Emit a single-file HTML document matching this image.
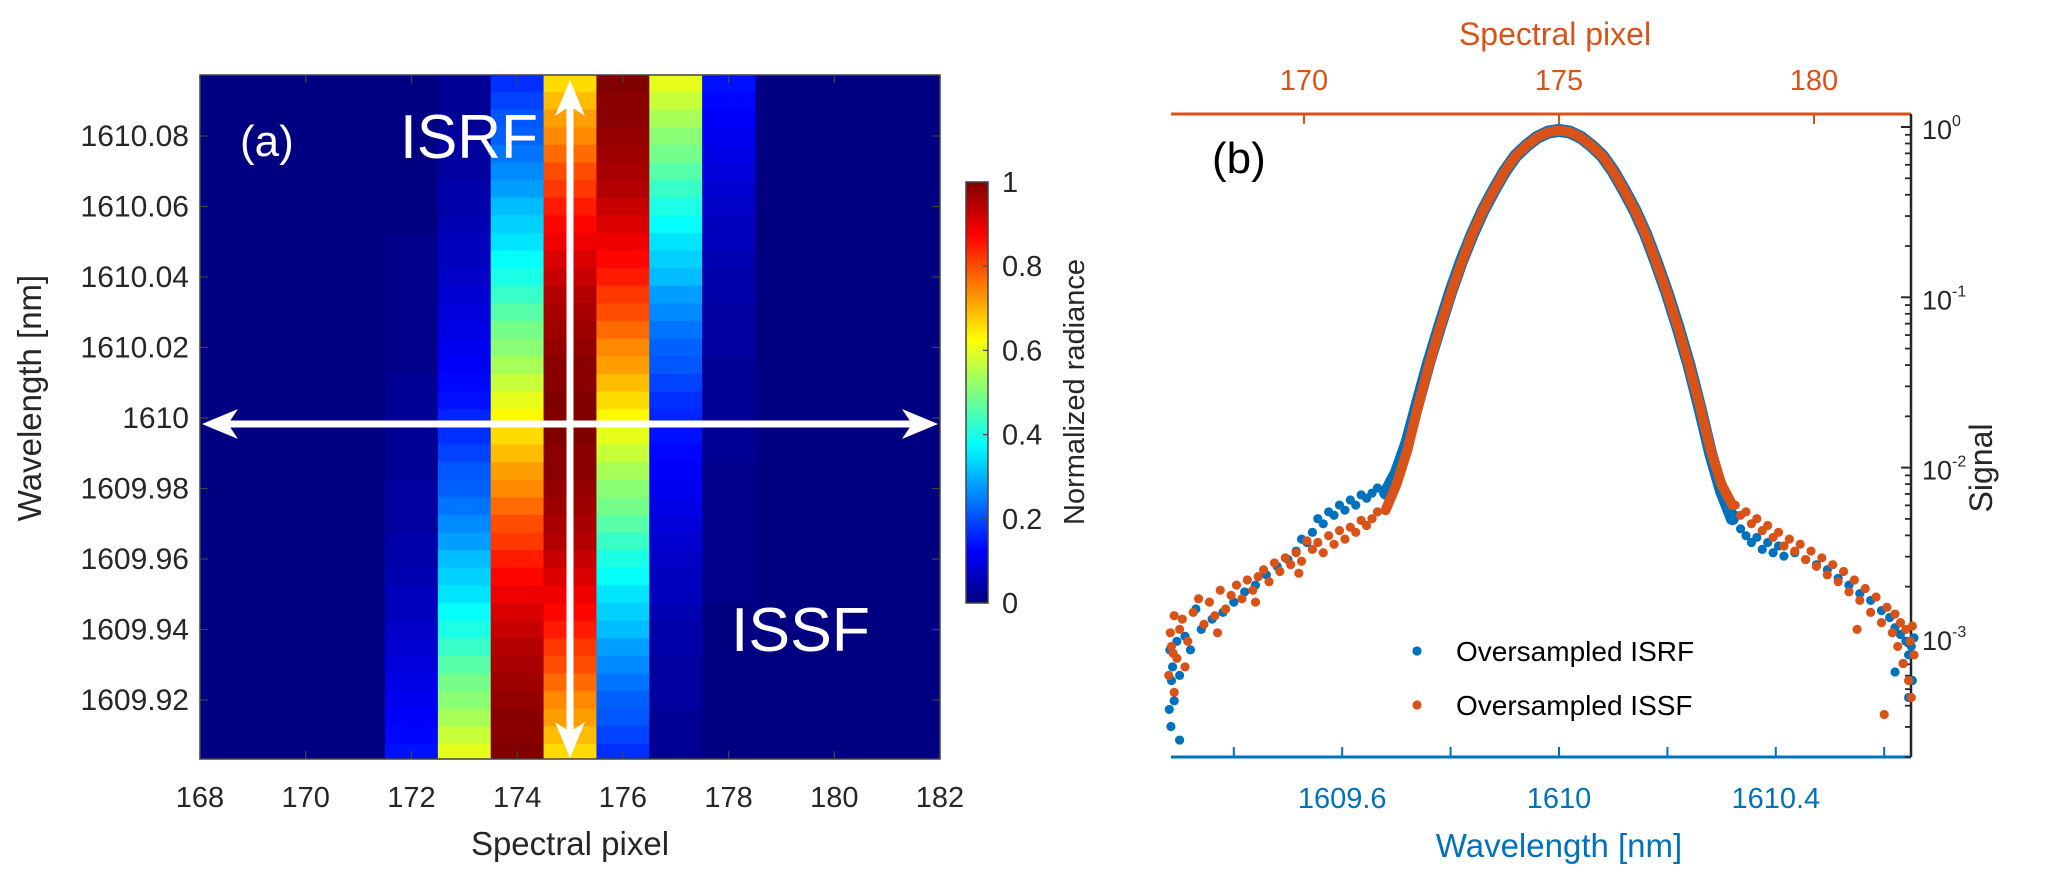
<!DOCTYPE html>
<html><head><meta charset="utf-8">
<style>
html,body{margin:0;padding:0;background:#fff;}
svg{display:block;font-family:"Liberation Sans",Arial,sans-serif;}
</style></head>
<body>
<svg id="fig" width="2067" height="886" viewBox="0 0 2067 886" xmlns="http://www.w3.org/2000/svg">
<defs>
  <linearGradient id="jetGrad" x1="0" y1="1" x2="0" y2="0">
    <stop offset="0" stop-color="#000080"/>
    <stop offset="0.125" stop-color="#0000ff"/>
    <stop offset="0.375" stop-color="#00ffff"/>
    <stop offset="0.625" stop-color="#ffff00"/>
    <stop offset="0.875" stop-color="#ff0000"/>
    <stop offset="1" stop-color="#800000"/>
  </linearGradient>
  <clipPath id="clipA"><rect x="200" y="75" width="740" height="684"/></clipPath>
</defs>
<g id="panelA"></g>
<g id="panelB"></g>
</svg>
<script>
// ---------- Panel (a) data ----------
const heatCols = [172,173,174,175,176,177,178];
const heatRowWl = [1610.095,1610.090,1610.085,1610.080,1610.075,1610.070,1610.065,1610.060,1610.055,1610.050,1610.045,1610.040,1610.035,1610.030,1610.025,1610.020,1610.015,1610.010,1610.005,1610.000,1609.995,1609.990,1609.985,1609.980,1609.975,1609.970,1609.965,1609.960,1609.955,1609.950,1609.945,1609.940,1609.935,1609.930,1609.925,1609.920,1609.915,1609.910,1609.905];
const heatVals = [
[.00,.02,.17,.66,1.0,.60,.14],[.00,.02,.19,.69,.99,.57,.13],[.00,.02,.21,.72,.99,.54,.12],[.00,.03,.22,.74,.98,.51,.11],
[.00,.03,.24,.77,.97,.49,.10],[.00,.03,.26,.80,.96,.46,.09],[.00,.04,.28,.82,.95,.43,.08],[.00,.04,.31,.85,.93,.40,.07],
[.00,.05,.33,.87,.91,.38,.06],[.01,.06,.35,.89,.89,.35,.06],[.01,.06,.38,.91,.87,.33,.05],[.01,.07,.40,.93,.85,.31,.04],
[.01,.08,.43,.95,.82,.28,.04],[.01,.09,.46,.96,.80,.26,.03],[.01,.10,.49,.97,.77,.24,.03],[.01,.11,.51,.98,.74,.22,.03],
[.01,.12,.54,.99,.72,.21,.02],[.02,.13,.57,.99,.69,.19,.02],[.02,.14,.60,1.0,.66,.17,.02],[.02,.16,.63,1.0,.63,.16,.02],
[.02,.17,.66,1.0,.60,.14,.02],[.02,.19,.69,.99,.57,.13,.02],[.02,.21,.72,.99,.54,.12,.01],[.03,.22,.74,.98,.51,.11,.01],
[.03,.24,.77,.97,.49,.10,.01],[.03,.26,.80,.96,.46,.09,.01],[.04,.28,.82,.95,.43,.08,.01],[.04,.31,.85,.93,.40,.07,.01],
[.05,.33,.87,.91,.38,.06,.01],[.06,.35,.89,.89,.35,.06,.01],[.06,.38,.91,.87,.33,.05,.00],[.07,.40,.93,.85,.31,.04,.00],
[.08,.43,.95,.82,.28,.04,.00],[.09,.46,.96,.80,.26,.03,.00],[.10,.49,.97,.77,.24,.03,.00],[.11,.51,.98,.74,.22,.03,.00],
[.12,.54,.99,.72,.21,.02,.00],[.13,.57,.99,.69,.19,.02,.00],[.14,.60,1.0,.66,.17,.02,.00]];
const aXTicks = [168,170,172,174,176,178,180,182];
const aYTicks = [1610.08,1610.06,1610.04,1610.02,1610,1609.98,1609.96,1609.94,1609.92];
const aYTickLabels = ["1610.08","1610.06","1610.04","1610.02","1610","1609.98","1609.96","1609.94","1609.92"];
const cbTicks = [0,0.2,0.4,0.6,0.8,1];
const cbTickLabels = ["0","0.2","0.4","0.6","0.8","1"];

// ---------- Panel (b) data ----------
const coreWl = [1609.68,1609.70,1609.72,1609.74,1609.76,1609.78,1609.80,1609.82,1609.84,1609.86,1609.88,1609.90,1609.92,1609.94,1609.96,1609.98,1610.00,1610.02,1610.04,1610.06,1610.08,1610.10,1610.12,1610.14,1610.16,1610.18,1610.20,1610.22,1610.24,1610.26,1610.28,1610.30,1610.32];
const isrfCoreLog = [-2.15,-2.03,-1.85,-1.61,-1.38,-1.17,-0.97,-0.79,-0.63,-0.49,-0.37,-0.26,-0.17,-0.11,-0.06,-0.03,-0.02,-0.03,-0.06,-0.11,-0.17,-0.26,-0.37,-0.49,-0.63,-0.80,-0.98,-1.18,-1.40,-1.65,-1.92,-2.14,-2.30];
const issfCoreLog = [-2.25,-2.10,-1.90,-1.64,-1.40,-1.18,-0.98,-0.80,-0.63,-0.49,-0.37,-0.26,-0.17,-0.11,-0.06,-0.03,-0.02,-0.03,-0.06,-0.11,-0.17,-0.26,-0.37,-0.49,-0.63,-0.80,-0.98,-1.18,-1.40,-1.64,-1.90,-2.10,-2.22];
const isrfTailWl = [1609.665,1609.655,1609.645,1609.635,1609.625,1609.615,1609.605,1609.595,1609.585,1609.575,1609.565,1609.555,1609.545,1609.535,1609.525,1609.515,1609.50,1609.48,1609.46,1609.44,1609.42,1609.40,1609.38,1609.36,1609.34,1609.33,1609.32,1609.31,1609.30,1609.295,1609.29,1609.287,1609.284,1609.282,1609.281,1609.285,1609.30,
 1610.325,1610.335,1610.345,1610.355,1610.365,1610.375,1610.385,1610.395,1610.405,1610.415,1610.435,1610.455,1610.475,1610.495,1610.515,1610.535,1610.555,1610.575,1610.595,1610.61,1610.62,1610.63,1610.635,1610.64,1610.645,1610.65,1610.652,1610.655,1610.645,1610.62];
const isrfTailLog = [-2.12,-2.15,-2.18,-2.16,-2.22,-2.19,-2.25,-2.22,-2.28,-2.26,-2.33,-2.30,-2.38,-2.44,-2.42,-2.49,-2.54,-2.58,-2.63,-2.69,-2.73,-2.79,-2.85,-2.89,-2.95,-2.83,-3.07,-2.99,-3.22,-3.02,-3.37,-3.17,-3.52,-3.07,-3.42,-3.25,-3.60,
 -2.28,-2.36,-2.40,-2.44,-2.41,-2.48,-2.44,-2.50,-2.46,-2.52,-2.50,-2.54,-2.57,-2.60,-2.65,-2.69,-2.74,-2.78,-2.84,-2.88,-2.94,-2.98,-3.15,-3.02,-3.10,-3.05,-3.25,-3.00,-3.35,-3.20];
const issfTailWl = [1609.665,1609.655,1609.645,1609.635,1609.625,1609.615,1609.605,1609.595,1609.585,1609.575,1609.565,1609.555,1609.545,1609.535,1609.525,1609.515,1609.505,1609.495,1609.485,1609.475,1609.465,1609.455,1609.445,1609.435,1609.425,1609.415,1609.405,1609.395,1609.385,1609.375,1609.365,1609.355,1609.345,1609.335,1609.325,1609.315,1609.305,1609.30,1609.295,1609.29,1609.285,1609.28,1609.283,1609.288,1609.52,1609.44,1609.37,1609.31,1609.29,
 1610.325,1610.335,1610.345,1610.355,1610.365,1610.375,1610.385,1610.395,1610.405,1610.415,1610.425,1610.435,1610.445,1610.455,1610.465,1610.475,1610.485,1610.495,1610.505,1610.515,1610.525,1610.535,1610.545,1610.555,1610.565,1610.575,1610.585,1610.595,1610.605,1610.615,1610.62,1610.625,1610.63,1610.635,1610.64,1610.645,1610.648,1610.65,1610.652,1610.655,1610.60,1610.55];
const issfTailLog = [-2.26,-2.30,-2.34,-2.31,-2.38,-2.35,-2.42,-2.37,-2.45,-2.40,-2.50,-2.44,-2.48,-2.43,-2.55,-2.50,-2.57,-2.53,-2.61,-2.56,-2.67,-2.60,-2.64,-2.72,-2.66,-2.77,-2.69,-2.75,-2.83,-2.72,-2.87,-2.79,-2.92,-2.77,-2.85,-3.02,-2.89,-2.95,-3.12,-2.87,-3.05,-3.22,-2.97,-3.09,-2.62,-2.79,-2.97,-3.17,-3.32,
 -2.22,-2.28,-2.26,-2.33,-2.30,-2.37,-2.34,-2.41,-2.38,-2.46,-2.42,-2.49,-2.45,-2.54,-2.49,-2.58,-2.53,-2.63,-2.57,-2.67,-2.61,-2.73,-2.66,-2.78,-2.71,-2.85,-2.76,-2.91,-2.82,-2.97,-2.86,-3.05,-2.91,-3.15,-2.95,-3.25,-3.02,-3.35,-2.93,-3.10,-3.45,-2.95];
const bXTicks = [1609.4,1609.6,1609.8,1610,1610.2,1610.4,1610.6];
const bXTickLabels = {"1609.6":"1609.6","1610":"1610","1610.4":"1610.4"};
const bTopTicks = [170,175,180];
const bYDecades = [0,-1,-2,-3];

const NS = "http://www.w3.org/2000/svg";
function mk(tag, attrs, parent, text){
  const e = document.createElementNS(NS, tag);
  for (const k in attrs) e.setAttribute(k, attrs[k]);
  if (text !== undefined) e.textContent = text;
  parent.appendChild(e);
  return e;
}
function jet(v){
  const c = x => Math.max(0, Math.min(1, x));
  const r = c(1.5 - Math.abs(4*v - 3)), g = c(1.5 - Math.abs(4*v - 2)), b = c(1.5 - Math.abs(4*v - 1));
  return `rgb(${Math.round(r*255)},${Math.round(g*255)},${Math.round(b*255)})`;
}

// ---------- Panel (a) ----------
const A = document.getElementById('panelA');
const axL = 200, axR = 940, axT = 75, axB = 759;
const xA = p => axL + (p - 168) * (axR - axL) / 14;
const yA = l => 418 - (l - 1610) * 3525;

const bg = mk('rect', {x:axL, y:axT, width:axR-axL, height:axB-axT, fill:jet(0)}, A);


const cells = mk('g', {'clip-path':'url(#clipA)'}, A);


heatRowWl.forEach((wl, i) => {
  heatCols.forEach((col, j) => {
    const x0 = xA(col - 0.5), x1 = xA(col + 0.5);
    const y0 = yA(wl + 0.0025), y1 = yA(wl - 0.0025);
    const r = mk('rect', {x:x0, y:y0, width:x1-x0+0.5, height:y1-y0+0.5, fill:jet(heatVals[i][j])}, cells);
    
    
  });
});
const boxA = mk('rect', {x:axL, y:axT, width:axR-axL, height:axB-axT, fill:'none', stroke:'#444', 'stroke-width':1.5}, A);


aXTicks.forEach(t => {
  const x = xA(t);
  mk('line', {x1:x, y1:axB, x2:x, y2:axB-8, stroke:'#444', 'stroke-width':1.2}, A);
  mk('line', {x1:x, y1:axT, x2:x, y2:axT+8, stroke:'#444', 'stroke-width':1.2}, A);
  const lb = mk('text', {x:x, y:807, 'font-size':29, 'text-anchor':'middle', fill:'#262626'}, A, String(t));
  
  
});
aYTicks.forEach((t, i) => {
  const y = yA(t);
  mk('line', {x1:axL, y1:y, x2:axL+8, y2:y, stroke:'#444', 'stroke-width':1.2}, A);
  mk('line', {x1:axR, y1:y, x2:axR-8, y2:y, stroke:'#444', 'stroke-width':1.2}, A);
  const lb = mk('text', {x:189, y:y+10, 'font-size':30, 'text-anchor':'end', fill:'#262626'}, A, aYTickLabels[i]);
  
  
});
const xtA = mk('text', {x:570, y:855, 'font-size':33, 'text-anchor':'middle', fill:'#262626'}, A, 'Spectral pixel');


const ytA = mk('text', {x:0, y:0, 'font-size':33, 'text-anchor':'middle', fill:'#262626', transform:'translate(41,398) rotate(-90)'}, A, 'Wavelength [nm]');



const arr = mk('g', {fill:'#fff', stroke:'none'}, A);


const vx = xA(175), hy = 424;
mk('rect', {x:vx-3.5, y:100, width:7, height:636}, arr);
mk('polygon', {points:`${vx},80 ${vx+15},116 ${vx},106 ${vx-15},116`}, arr);
mk('polygon', {points:`${vx},758 ${vx+15},722 ${vx},732 ${vx-15},722`}, arr);
mk('rect', {x:225, y:hy-3.5, width:690, height:7}, arr);
mk('polygon', {points:`202,${hy} 238,${hy-15} 228,${hy} 238,${hy+15}`}, arr);
mk('polygon', {points:`938,${hy} 902,${hy-15} 912,${hy} 902,${hy+15}`}, arr);

const la = mk('text', {x:240, y:156, 'font-size':44, fill:'#fff'}, A, '(a)');


const isrf = mk('text', {x:400, y:158, 'font-size':62, fill:'#fff', textLength:138, lengthAdjust:'spacingAndGlyphs'}, A, 'ISRF');


const issf = mk('text', {x:731, y:651, 'font-size':62, fill:'#fff', textLength:139, lengthAdjust:'spacingAndGlyphs'}, A, 'ISSF');



const cbL = 966, cbR = 988, cbT = 182, cbB = 603;
const cb = mk('rect', {x:cbL, y:cbT, width:cbR-cbL, height:cbB-cbT, fill:'url(#jetGrad)', stroke:'#444', 'stroke-width':1.5}, A);


cbTicks.forEach((t, i) => {
  const y = cbB - t * (cbB - cbT);
  mk('line', {x1:cbR, y1:y, x2:cbR-5, y2:y, stroke:'#444', 'stroke-width':1.2}, A);
  const lb = mk('text', {x:1002, y:y+10, 'font-size':29, fill:'#262626'}, A, cbTickLabels[i]);
  
  
});
const cbt = mk('text', {x:0, y:0, 'font-size':29, 'text-anchor':'middle', fill:'#262626', transform:'translate(1084,392) rotate(-90)'}, A, 'Normalized radiance');



// ---------- Panel (b) ----------
const B = document.getElementById('panelB');
const bL = 1171, bR = 1911, bT = 114, bBt = 757;
const xB = wl => 1559 + (wl - 1610) * 542;
const xP = p => 1559 + (p - 175) * 51;
const yB = lg => 127 - lg * 170.3;
const ORANGE = '#D95319', BLUE = '#0072BD';

const topAx = mk('line', {x1:bL, y1:bT, x2:bR, y2:bT, stroke:ORANGE, 'stroke-width':3}, B);


bTopTicks.forEach(t => {
  const x = xP(t);
  mk('line', {x1:x, y1:bT, x2:x, y2:bT+10, stroke:ORANGE, 'stroke-width':2}, B);
  const lb = mk('text', {x:x, y:90, 'font-size':29, 'text-anchor':'middle', fill:ORANGE}, B, String(t));
  
  
});
const tt = mk('text', {x:1555, y:45, 'font-size':32, 'text-anchor':'middle', fill:ORANGE}, B, 'Spectral pixel');



const botAx = mk('line', {x1:bL, y1:bBt, x2:bR, y2:bBt, stroke:BLUE, 'stroke-width':3}, B);


bXTicks.forEach(t => {
  const x = xB(t);
  mk('line', {x1:x, y1:bBt, x2:x, y2:bBt-10, stroke:BLUE, 'stroke-width':2}, B);
  const key = String(Math.round(t*10)/10);
  if (bXTickLabels[key]) {
    const lb = mk('text', {x:x, y:808, 'font-size':29, 'text-anchor':'middle', fill:BLUE}, B, bXTickLabels[key]);
    
    
  }
});
const bt = mk('text', {x:1559, y:857, 'font-size':33, 'text-anchor':'middle', fill:BLUE}, B, 'Wavelength [nm]');



const rAx = mk('line', {x1:bR, y1:bT, x2:bR, y2:bBt, stroke:'#262626', 'stroke-width':2.5}, B);


bYDecades.forEach(d => {
  const y = yB(d);
  mk('line', {x1:bR, y1:y, x2:bR-10, y2:y, stroke:'#262626', 'stroke-width':2}, B);
  for (let m = 2; m <= 9; m++) {
    const ym = yB(d - 1 + Math.log10(m));
    if (ym <= bBt && ym >= bT) mk('line', {x1:bR, y1:ym, x2:bR-6, y2:ym, stroke:'#262626', 'stroke-width':1.8}, B);
  }
  const lb = mk('text', {x:1922, y:y+12, 'font-size':27, fill:'#262626'}, B);
  
  
  mk('tspan', {}, lb, '10');
  mk('tspan', {dy:-13, 'font-size':16}, lb, String(d));
});
const st = mk('text', {x:0, y:0, 'font-size':32, 'text-anchor':'middle', fill:'#262626', transform:'translate(1992,468) rotate(-90)'}, B, 'Signal');



const lb = mk('text', {x:1212, y:173, 'font-size':44, fill:'#000'}, B, '(b)');



function drawSeries(name, color, coreLog, tailWl, tailLog, coreWidth){
  const g = mk('g', {}, B);
  
  
  const pts = coreWl.map((w, i) => `${xB(w).toFixed(1)},${yB(coreLog[i]).toFixed(1)}`).join(' ');
  const pl = mk('polyline', {points:pts, fill:'none', stroke:color, 'stroke-width':coreWidth, 'stroke-linejoin':'round', 'stroke-linecap':'round'}, g);
  
  
  coreWl.forEach((w, i) => {
    const c = mk('circle', {cx:xB(w), cy:yB(coreLog[i]), r:4.6, fill:color}, g);
    
    
  });
  tailWl.forEach((w, i) => {
    const c = mk('circle', {cx:xB(w), cy:yB(tailLog[i]), r:4.6, fill:color}, g);
    
    
  });
}
drawSeries('isrf-series', BLUE, isrfCoreLog, isrfTailWl, isrfTailLog, 13);
drawSeries('issf-series', ORANGE, issfCoreLog, issfTailWl, issfTailLog, 10);

const leg = mk('g', {}, B);


const e1 = mk('g', {}, leg);


mk('circle', {cx:1417, cy:651, r:4.6, fill:BLUE}, e1);
mk('text', {x:1456, y:661, 'font-size':28, fill:'#000'}, e1, 'Oversampled ISRF');
const e2 = mk('g', {}, leg);


mk('circle', {cx:1417, cy:705, r:4.6, fill:ORANGE}, e2);
mk('text', {x:1456, y:715, 'font-size':28, fill:'#000'}, e2, 'Oversampled ISSF');
</script>
</body></html>
